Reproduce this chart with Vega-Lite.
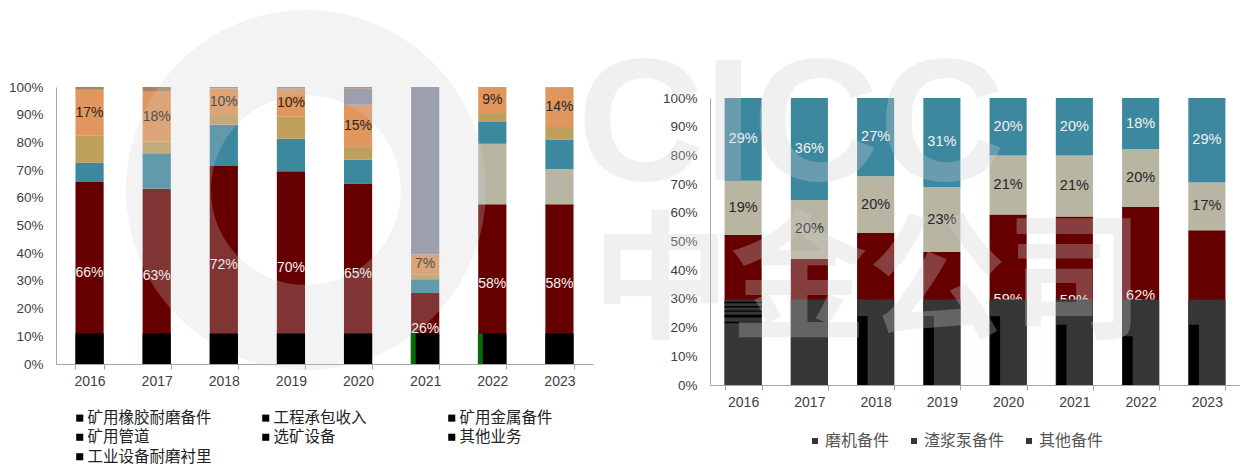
{
"$schema":"https://vega.github.io/schema/vega-lite/v6.json",
"padding":{"left":8,"top":10,"right":0,"bottom":0},
"bounds":"flush",
"spacing":117,
"background":"white",
"resolve":{"scale":{"color":"independent","fill":"independent"},"legend":{"color":"independent"}},
"config":{"view":{"stroke":null},"font":"Liberation Sans",
 "axisX":{"title":null,"grid":false,"labelAngle":0,"tickBand":"extent","domainColor":"#a6a6a6","tickColor":"#a6a6a6","tickSize":5,"labelFontSize":14,"labelColor":"#404040","labelPadding":5},
 "axisY":{"title":null,"grid":false,"ticks":false,"format":".0%","tickCount":11,"labelOverlap":false,"domainColor":"#a6a6a6","labelFontSize":13.5,"labelColor":"#404040","labelPadding":13}},
"datasets":{
 "left":[
 {"year":"2016","series":"矿用橡胶耐磨备件","rank":1,"share":0.657},{"year":"2016","series":"矿用金属备件","rank":3,"share":0.069},{"year":"2016","series":"矿用管道","rank":4,"share":0.098},{"year":"2016","series":"选矿设备","rank":5,"share":0.166},{"year":"2016","series":"工业设备耐磨衬里","rank":7,"share":0.01},
 {"year":"2017","series":"矿用橡胶耐磨备件","rank":1,"share":0.633},{"year":"2017","series":"矿用金属备件","rank":3,"share":0.128},{"year":"2017","series":"矿用管道","rank":4,"share":0.041},{"year":"2017","series":"选矿设备","rank":5,"share":0.181},{"year":"2017","series":"工业设备耐磨衬里","rank":7,"share":0.017},
 {"year":"2018","series":"矿用橡胶耐磨备件","rank":1,"share":0.715},{"year":"2018","series":"矿用金属备件","rank":3,"share":0.149},{"year":"2018","series":"矿用管道","rank":4,"share":0.035},{"year":"2018","series":"选矿设备","rank":5,"share":0.096},{"year":"2018","series":"其他业务","rank":6,"share":0.005},
 {"year":"2019","series":"矿用橡胶耐磨备件","rank":1,"share":0.696},{"year":"2019","series":"矿用金属备件","rank":3,"share":0.117},{"year":"2019","series":"矿用管道","rank":4,"share":0.08},{"year":"2019","series":"选矿设备","rank":5,"share":0.101},{"year":"2019","series":"其他业务","rank":6,"share":0.006},
 {"year":"2020","series":"矿用橡胶耐磨备件","rank":1,"share":0.65},{"year":"2020","series":"矿用金属备件","rank":3,"share":0.087},{"year":"2020","series":"矿用管道","rank":4,"share":0.046},{"year":"2020","series":"选矿设备","rank":5,"share":0.153},{"year":"2020","series":"其他业务","rank":6,"share":0.058},{"year":"2020","series":"工业设备耐磨衬里","rank":7,"share":0.006},
 {"year":"2021","series":"矿用橡胶耐磨备件","rank":1,"share":0.256},{"year":"2021","series":"矿用金属备件","rank":3,"share":0.05},{"year":"2021","series":"矿用管道","rank":4,"share":0.018},{"year":"2021","series":"选矿设备","rank":5,"share":0.072},{"year":"2021","series":"其他业务","rank":6,"share":0.604},
 {"year":"2022","series":"矿用橡胶耐磨备件","rank":1,"share":0.577},{"year":"2022","series":"工程承包收入","rank":2,"share":0.218},{"year":"2022","series":"矿用金属备件","rank":3,"share":0.081},{"year":"2022","series":"矿用管道","rank":4,"share":0.03},{"year":"2022","series":"选矿设备","rank":5,"share":0.094},
 {"year":"2023","series":"矿用橡胶耐磨备件","rank":1,"share":0.577},{"year":"2023","series":"工程承包收入","rank":2,"share":0.127},{"year":"2023","series":"矿用金属备件","rank":3,"share":0.105},{"year":"2023","series":"矿用管道","rank":4,"share":0.047},{"year":"2023","series":"选矿设备","rank":5,"share":0.143},{"year":"2023","series":"其他业务","rank":6,"share":0.001}
 ],
 "right":[
 {"year":"2016","series":"磨机备件","rank":1,"share":0.523},{"year":"2016","series":"渣浆泵备件","rank":2,"share":0.189},{"year":"2016","series":"其他备件","rank":3,"share":0.288},
 {"year":"2017","series":"磨机备件","rank":1,"share":0.44},{"year":"2017","series":"渣浆泵备件","rank":2,"share":0.204},{"year":"2017","series":"其他备件","rank":3,"share":0.356},
 {"year":"2018","series":"磨机备件","rank":1,"share":0.53},{"year":"2018","series":"渣浆泵备件","rank":2,"share":0.197},{"year":"2018","series":"其他备件","rank":3,"share":0.273},
 {"year":"2019","series":"磨机备件","rank":1,"share":0.463},{"year":"2019","series":"渣浆泵备件","rank":2,"share":0.227},{"year":"2019","series":"其他备件","rank":3,"share":0.31},
 {"year":"2020","series":"磨机备件","rank":1,"share":0.594},{"year":"2020","series":"渣浆泵备件","rank":2,"share":0.206},{"year":"2020","series":"其他备件","rank":3,"share":0.2},
 {"year":"2021","series":"磨机备件","rank":1,"share":0.587},{"year":"2021","series":"渣浆泵备件","rank":2,"share":0.213},{"year":"2021","series":"其他备件","rank":3,"share":0.2},
 {"year":"2022","series":"磨机备件","rank":1,"share":0.62},{"year":"2022","series":"渣浆泵备件","rank":2,"share":0.202},{"year":"2022","series":"其他备件","rank":3,"share":0.178},
 {"year":"2023","series":"磨机备件","rank":1,"share":0.539},{"year":"2023","series":"渣浆泵备件","rank":2,"share":0.167},{"year":"2023","series":"其他备件","rank":3,"share":0.294}
 ]
},
"hconcat":[
 {"width":537,"height":277,
  "layer":[
  {"data":{"name":"left"},
   "transform":[{"stack":"share","groupby":["year"],"sort":[{"field":"rank","order":"ascending"}],"as":["y0","y1"]}],
   "mark":{"type":"bar"},
   "encoding":{
    "x":{"field":"year","type":"nominal","scale":{"paddingInner":0.58,"paddingOuter":0.29}},
    "y":{"field":"y0","type":"quantitative","scale":{"domain":[0,1]}},
    "y2":{"field":"y1"},
    "fill":{"field":"series","type":"nominal","legend":null,
     "scale":{"domain":["工业设备耐磨衬里","其他业务","选矿设备","矿用管道","矿用金属备件","工程承包收入","矿用橡胶耐磨备件"],"range":["#a08560","#8b90a3","#e0965c","#bf9f5c","#3c889f","#b8b6a3","#660000"]}
    }}},
  {"data":{"name":"left"},
   "mark":{"type":"point","filled":true,"size":0,"opacity":1},
   "encoding":{
    "x":{"field":"year","type":"nominal"},
    "y":{"field":"share","type":"quantitative"},
    "color":{"field":"series","type":"nominal",
     "scale":{"domain":["矿用橡胶耐磨备件","工程承包收入","矿用金属备件","矿用管道","选矿设备","其他业务","工业设备耐磨衬里"],"range":["#000000","#000000","#000000","#000000","#000000","#000000","#000000"]},
     "legend":{"orient":"none","legendX":16,"legendY":323,"columns":3,"direction":"horizontal","title":null,"symbolType":"square","symbolSize":50,"symbolOpacity":1,"labelFont":"Noto Sans CJK SC","labelFontSize":15.5,"labelColor":"#222222","gridAlign":"all","columnPadding":46,"rowPadding":2.5,"labelOffset":0,"symbolStrokeWidth":0}
    }}},
  {"data":{"name":"left"},
   "transform":[{"stack":"share","groupby":["year"],"sort":[{"field":"rank","order":"ascending"}],"as":["y0","y1"]},{"calculate":"(datum.y0+datum.y1)/2","as":"mid"},{"filter":"datum.series==='矿用橡胶耐磨备件'"}],
   "mark":{"type":"text","fontSize":14,"color":"#f2f2f2"},
   "encoding":{"x":{"field":"year","type":"nominal"},"y":{"field":"mid","type":"quantitative"},"text":{"field":"share","format":".0%"}}},
  {"data":{"name":"left"},
   "transform":[{"stack":"share","groupby":["year"],"sort":[{"field":"rank","order":"ascending"}],"as":["y0","y1"]},{"calculate":"(datum.y0+datum.y1)/2","as":"mid"},{"filter":"datum.series==='选矿设备'"}],
   "mark":{"type":"text","fontSize":14,"color":"#262626"},
   "encoding":{"x":{"field":"year","type":"nominal"},"y":{"field":"mid","type":"quantitative"},"text":{"field":"share","format":".0%"}}},
  {"data":{"values":[{"year":"2019","level":0.628}]},
   "mark":{"type":"arc","radius":180,"radius2":95,"theta":0,"theta2":6.2832,"color":"#d0d0d0","opacity":0.25,"xOffset":15},
   "encoding":{"x":{"field":"year","type":"nominal"},"y":{"field":"level","type":"quantitative"}}},
  {"data":{"values":[{"year":"2016","low":0,"top":0.11},{"year":"2017","low":0,"top":0.11},{"year":"2018","low":0,"top":0.11},{"year":"2019","low":0,"top":0.11},{"year":"2020","low":0,"top":0.11},{"year":"2021","low":0,"top":0.11},{"year":"2022","low":0,"top":0.11},{"year":"2023","low":0,"top":0.11}]},
   "mark":{"type":"bar","color":"#000000"},
   "encoding":{"x":{"field":"year","type":"nominal"},"y":{"field":"low","type":"quantitative"},"y2":{"field":"top"}}},
  {"data":{"values":[{"year":"2021","low":0,"top":0.11},{"year":"2022","low":0,"top":0.11}]},
   "mark":{"type":"bar","color":"#0a6a0a","size":5,"xOffset":-12},
   "encoding":{"x":{"field":"year","type":"nominal"},"y":{"field":"low","type":"quantitative"},"y2":{"field":"top"}}}
  ]},
 {"vconcat":[
  {"width":530,"height":1,"data":{"values":[{"year":"2016"}]},"mark":{"type":"rule","opacity":0},"encoding":{"x":{"field":"year","type":"nominal","axis":null}}},
  {"width":530,"height":287,
  "layer":[
  {"data":{"name":"right"},
   "transform":[{"stack":"share","groupby":["year"],"sort":[{"field":"rank","order":"ascending"}],"as":["y0","y1"]}],
   "mark":{"type":"bar"},
   "encoding":{
    "x":{"field":"year","type":"nominal","scale":{"paddingInner":0.44,"paddingOuter":0.22}},
    "y":{"field":"y0","type":"quantitative","scale":{"domain":[0,1]}},
    "y2":{"field":"y1"},
    "fill":{"field":"series","type":"nominal","legend":null,
     "scale":{"domain":["其他备件","渣浆泵备件","磨机备件"],"range":["#3c889f","#b8b6a3","#660000"]}
    }}},
  {"data":{"name":"right"},
   "mark":{"type":"point","filled":true,"size":0,"opacity":1},
   "encoding":{
    "x":{"field":"year","type":"nominal"},
    "y":{"field":"share","type":"quantitative"},
    "color":{"field":"series","type":"nominal",
     "scale":{"domain":["磨机备件","渣浆泵备件","其他备件"],"range":["#363636","#363636","#363636"]},
     "legend":{"orient":"none","legendX":97,"legendY":346,"direction":"horizontal","title":null,"symbolType":"square","symbolSize":36,"symbolOpacity":1,"labelFont":"Noto Sans CJK SC","labelFontSize":16,"labelColor":"#555555","columnPadding":16,"labelOffset":2,"symbolStrokeWidth":0}
    }}},
  {"data":{"name":"right"},
   "transform":[{"stack":"share","groupby":["year"],"sort":[{"field":"rank","order":"ascending"}],"as":["y0","y1"]},{"calculate":"(datum.y0+datum.y1)/2","as":"mid"},{"filter":"datum.series!=='渣浆泵备件'"}],
   "mark":{"type":"text","fontSize":14.5,"color":"#f2f2f2"},
   "encoding":{"x":{"field":"year","type":"nominal"},"y":{"field":"mid","type":"quantitative"},"text":{"field":"share","format":".0%"}}},
  {"data":{"name":"right"},
   "transform":[{"stack":"share","groupby":["year"],"sort":[{"field":"rank","order":"ascending"}],"as":["y0","y1"]},{"calculate":"(datum.y0+datum.y1)/2","as":"mid"},{"filter":"datum.series==='渣浆泵备件'"}],
   "mark":{"type":"text","fontSize":14.5,"color":"#262626"},
   "encoding":{"x":{"field":"year","type":"nominal"},"y":{"field":"mid","type":"quantitative"},"text":{"field":"share","format":".0%"}}},
  {"data":{"values":[{"year":"2016","low":0,"top":0.298},{"year":"2017","low":0,"top":0.298},{"year":"2018","low":0,"top":0.298},{"year":"2019","low":0,"top":0.298},{"year":"2020","low":0,"top":0.298},{"year":"2021","low":0,"top":0.298},{"year":"2022","low":0,"top":0.298},{"year":"2023","low":0,"top":0.298}]},
   "mark":{"type":"bar","color":"#363636"},
   "encoding":{"x":{"field":"year","type":"nominal"},"y":{"field":"low","type":"quantitative"},"y2":{"field":"top"}}},
  {"data":{"values":[{"year":"2018","low":0,"top":0.24},{"year":"2019","low":0,"top":0.24},{"year":"2020","low":0,"top":0.24},{"year":"2021","low":0,"top":0.21},{"year":"2022","low":0,"top":0.17},{"year":"2023","low":0,"top":0.21}]},
   "mark":{"type":"bar","color":"#000000","size":10,"xOffset":-13},
   "encoding":{"x":{"field":"year","type":"nominal"},"y":{"field":"low","type":"quantitative"},"y2":{"field":"top"}}},
  {"data":{"values":[{"year":"2016","low":0.285,"top":0.29},{"year":"2016","low":0.27,"top":0.275},{"year":"2016","low":0.255,"top":0.26},{"year":"2016","low":0.235,"top":0.245},{"year":"2016","low":0.215,"top":0.22}]},
   "mark":{"type":"bar","color":"#000000"},
   "encoding":{"x":{"field":"year","type":"nominal"},"y":{"field":"low","type":"quantitative"},"y2":{"field":"top"}}},
  {"data":{"values":[{"year":"2018","level":0.345,"word":"中金公司"}]},
   "mark":{"type":"text","font":"Noto Sans CJK SC","fontWeight":"bold","fontSize":138,"color":"#d0d0d0","opacity":0.3,"baseline":"middle","dx":-8},
   "encoding":{"x":{"field":"year","type":"nominal"},"y":{"field":"level","type":"quantitative"},"text":{"field":"word"}}},
  {"data":{"values":[{"year":"2017","level":0.9,"word":"CICC"}]},
   "mark":{"type":"text","font":"Liberation Sans","fontWeight":"bold","fontSize":175,"color":"#d0d0d0","opacity":0.3,"baseline":"middle","dx":-18},
   "encoding":{"x":{"field":"year","type":"nominal"},"y":{"field":"level","type":"quantitative"},"text":{"field":"word"}}}
  ]}
 ],"spacing":10,"bounds":"flush"}
]
}
